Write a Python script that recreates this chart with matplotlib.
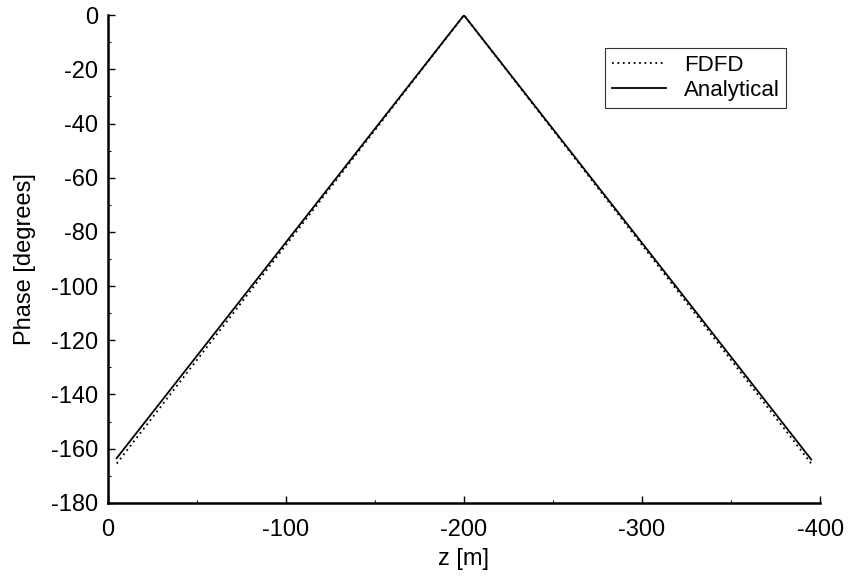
import numpy as np
import matplotlib.pyplot as plt
from matplotlib.ticker import MultipleLocator

plt.rcParams['font.family'] = ['Liberation Sans', 'DejaVu Sans']
plt.rcParams['axes.unicode_minus'] = False

# data
z = [-5, -200, -395]
phase_fdfd = [-165.5, 0, -165.5]
phase_analytical = [-163.5, 0, -164.0]

fig = plt.figure(figsize=(8.49, 5.84), dpi=100)
ax = fig.add_axes([0.127, 0.139, 0.839, 0.835])

ax.plot(z, phase_fdfd, color='black', linestyle=(0, (1, 2)), linewidth=1.3, label='FDFD')
ax.plot(z, phase_analytical, color='black', linestyle='-', linewidth=1.3, label='Analytical')

ax.set_xlim(0, -400)
ax.set_ylim(-180, 0)
ax.xaxis.set_major_locator(MultipleLocator(100))
ax.xaxis.set_minor_locator(MultipleLocator(50))
ax.yaxis.set_major_locator(MultipleLocator(20))
ax.yaxis.set_minor_locator(MultipleLocator(10))

for side in ['top', 'right']:
    ax.spines[side].set_visible(False)
for side in ['left', 'bottom']:
    ax.spines[side].set_linewidth(1.8)

ax.tick_params(which='major', direction='in', length=5, width=1, labelsize=17)
ax.tick_params(axis='y', which='major', pad=7)
ax.tick_params(axis='x', which='major', pad=12)
ax.tick_params(which='minor', direction='in', length=2.5, width=0.8)

ax.set_xlabel('z [m]', fontsize=17, labelpad=5)
ax.set_ylabel('Phase [degrees]', fontsize=17, labelpad=11)

leg = ax.legend(loc='upper left', bbox_to_anchor=(0.7126, 0.918),
                bbox_transform=fig.transFigure, fontsize=16,
                fancybox=False, framealpha=1, edgecolor='#333333',
                handlelength=2.45, handletextpad=0.8, borderpad=0.3,
                labelspacing=0.2, borderaxespad=0)
leg.get_frame().set_linewidth(0.8)

fig.savefig('out.png', dpi=100)
